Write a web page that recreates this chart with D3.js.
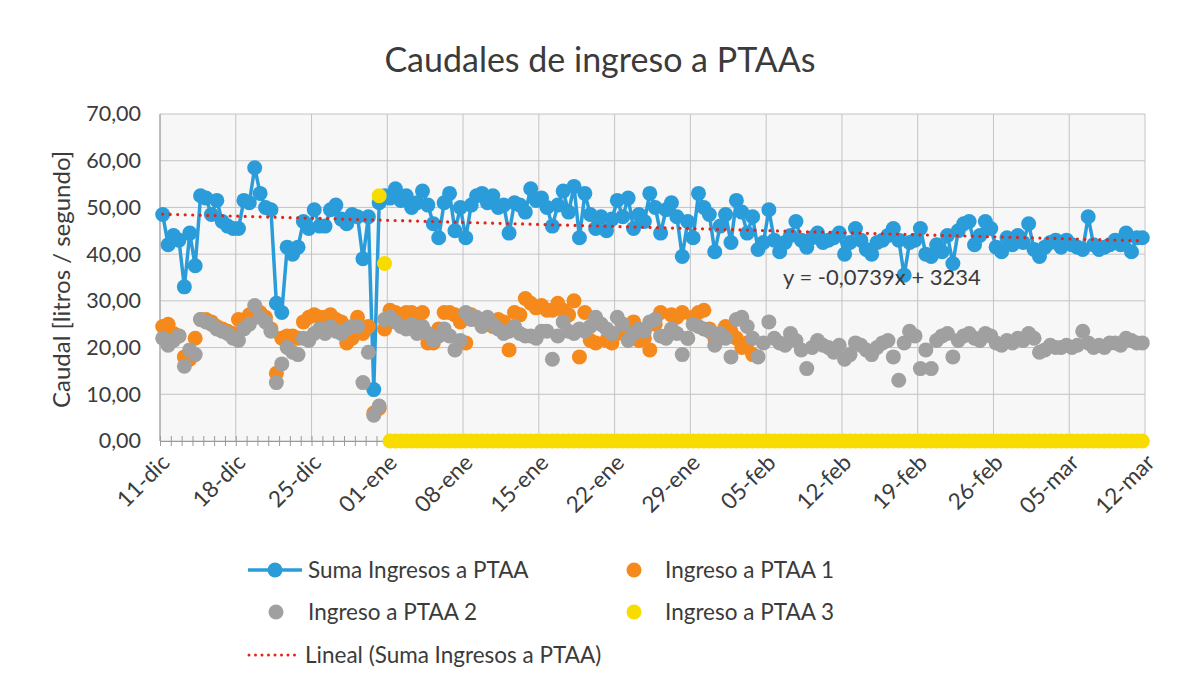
<!DOCTYPE html>
<html><head><meta charset="utf-8">
<script src="https://cdn.jsdelivr.net/npm/d3@7"></script>
<style>
body{margin:0;background:#fff;}
svg text{font-family:Lato,"Open Sans",sans-serif;fill:#3b3b3b;}
</style></head>
<body><svg id="chart" width="1186" height="688"></svg>
<script>
const chartTitle = "Caudales de ingreso a PTAAs";
const yAxisTitle = "Caudal [litros / segundo]";
const trendEquation = "y = -0,0739x + 3234";
const seriesNames = ["Suma Ingresos a PTAA","Ingreso a PTAA 1","Ingreso a PTAA 2","Ingreso a PTAA 3","Lineal (Suma Ingresos a PTAA)"];
const tickLabels = ["11-dic","18-dic","25-dic","01-ene","08-ene","15-ene","22-ene","29-ene","05-feb","12-feb","19-feb","26-feb","05-mar","12-mar"];
const yTicks = [0,10,20,30,40,50,60,70];
const daysShown = 91;            // 11-dic .. 12-mar
const readingOffsets = [0.25, 0.75]; // two readings per day (fraction of day)

// Suma Ingresos a PTAA (2 readings / day, d0 = 11-dic)
const suma = [
48.5,42, 44,43, 33,44.5, 37.5,52.5, 52,48.5, 51.5,47, 46,45.5, 45.5,51.5, 51,58.5, 53,50,
49.5,29.5, 27.5,41.5, 40,41.5, 47,45.5, 49.5,46, 46,49.5, 50.5,47.5, 46.5,48.5, 48,39, 48,11,
51,52.5, 52,54, 51.5,52.5, 50,51, 53.5,50.5, 46.5,43.5, 51,53, 45,50, 43.5,50.5, 52.5,53,
51,52.5, 50,50.5, 44.5,51, 50.5,49, 54,51.5, 52,50, 46,50.5, 53.5,49, 54.5,43.5, 53,48.5,
45.5,48, 45,47.5, 51.5,48, 52,45.5, 48.5,47, 53,50, 44.5,49.5, 51,48, 39.5,47, 43.5,53,
50,48.5, 40.5,46, 48.5,42.5, 51.5,49, 44.5,48, 41,42.5, 49.5,43, 40.5,42.5, 44,47, 43,41.5,
43.5,44.5, 42.5,43, 43.5,44.5, 40,42.5, 45.5,43, 41,40, 42.5,43, 44,45.5, 43,35.5, 42.5,43,
45.5,40, 39.5,42, 40.5,44, 38,45, 46.5,47, 42,44, 47,45.5, 41.5,40.5, 43.5,42, 44,42.5,
46.5,41, 39.5,41.5, 42.5,43, 41.5,43, 42,41.5, 41,48, 42,41, 41.5,42, 43,42, 44.5,40.5,
43.5,43.5
];
// Ingreso a PTAA 1
const ptaa1 = [
24.5,25, 23,22.5, 18,17.5, 22,26, 26,25.5, 24.5,24, 23.5,23, 26,25.5, 27,26.5, 27.5,26.5,
24,14.5, 22,22.5, 22.5,22, 25.5,26.5, 27,26.5, 26.5,27, 26,25.5, 21,22, 26.5,23, 24.5,6,
7,24, 28,27.5, 27,27.5, 27.5,27, 27.5,21, 21,24, 27.5,27.5, 27,25.5, 21,27, 26,25.5,
25,24.5, 26,25.5, 19.5,27.5, 27,30.5, 29.5,28.5, 29,28, 28,29.5, 28,27, 30,18, 27.5,21.5,
21,25, 21.5,21, 23,25, 22.5,25.5, 21.5,22, 19.5,25, 27.5,22.5, 27,26.5, 27.5,22, 26.5,27.5,
28,24, 22,23, 24.5,23.5, 22,20, 21,18.5, null,null, null,null, null,null, null,null, null,null,
null,null, null,null, null,null, null,null, null,null, null,null, null,null, null,null, null,null, null,null,
null,null, null,null, null,null, null,null, null,null, null,null, null,null, null,null, null,null, null,null,
null,null, null,null, null,null, null,null, null,null, null,null, null,null, null,null, null,null, null,null,
null,null
];
// Ingreso a PTAA 2
const ptaa2 = [
22,20.5, 21.5,22.5, 16,19.5, 18.5,26, 25.5,25, 24,23.5, 23,22, 21.5,24, 25,29, 26.5,25.5,
23.5,12.5, 16.5,20, 19,18.5, 22,21.5, 23,24, 23,24.5, 23.5,23, 24,24.5, 24.5,12.5, 19,5.5,
7.5,26, 26.5,25.5, 24.5,24, 25,23, 24.5,23, 21.5,22.5, 24,22.5, 19.5,21.5, 27.5,26, 26.5,24.5,
26.5,25, 24,23, 23.5,24.5, 23,22.5, 22.5,22, 23.5,23.5, 17.5,22.5, 25.5,23.5, 23,24, 23.5,24.5,
26.5,25, 24,23, 26.5,25, 21.5,23, 24,23.5, 25.5,26, 22.5,22, 24,23, 18.5,22, 25,24.5,
24,23.5, 20.5,23, 22,18, 26,26.5, 24.5,22, 18,21, 25.5,22, 21,20.5, 23,21.5, 19.5,15.5,
20,21.5, 20.5,20, 19,20.5, 17.5,18.5, 21,20.5, 19.5,18.5, 20,21, 21.5,18, 13,21, 23.5,22.5,
15.5,19.5, 15.5,21.5, 22.5,23, 18,21.5, 22.5,23, 22,21.5, 23,22.5, 21,20.5, 21.5,21, 22,21.5,
23,22, 19,19.5, 20.5,20, 20,20.5, 20,20.5, 23.5,21, 20,20.5, 20,21, 21,20.5, 22,21.5,
21,21
];
// Ingreso a PTAA 3
const ptaa3 = [
null,null, null,null, null,null, null,null, null,null, null,null, null,null, null,null, null,null, null,null,
null,null, null,null, null,null, null,null, null,null, null,null, null,null, null,null, null,null, null,null,
52.5,38, 0,0, 0,0, 0,0, 0,0, 0,0, 0,0, 0,0, 0,0, 0,0,
0,0, 0,0, 0,0, 0,0, 0,0, 0,0, 0,0, 0,0, 0,0, 0,0,
0,0, 0,0, 0,0, 0,0, 0,0, 0,0, 0,0, 0,0, 0,0, 0,0,
0,0, 0,0, 0,0, 0,0, 0,0, 0,0, 0,0, 0,0, 0,0, 0,0,
0,0, 0,0, 0,0, 0,0, 0,0, 0,0, 0,0, 0,0, 0,0, 0,0,
0,0, 0,0, 0,0, 0,0, 0,0, 0,0, 0,0, 0,0, 0,0, 0,0,
0,0, 0,0, 0,0, 0,0, 0,0, 0,0, 0,0, 0,0, 0,0, 0,0,
0,0
];

const colors = {suma:"#2b9cda", p1:"#f5891c", p2:"#a0a0a0", p3:"#f8dc00", trend:"#e0251b"};
const R = 7.5;

const svg = d3.select("#chart");
const W = 1186, H = 688;
const plot = {left:160, right:1145, top:114, bottom:441};

// time (in days since 11-dic) for each reading
const times = suma.map((_, i) => Math.floor(i / readingOffsets.length) + readingOffsets[i % readingOffsets.length]);

const x = d3.scaleLinear().domain([0, daysShown]).range([plot.left, plot.right]);
const y = d3.scaleLinear().domain([0, 70]).range([plot.bottom, plot.top]);

svg.append("rect").attr("width", W).attr("height", H).attr("fill", "#ffffff");
svg.append("rect").attr("x", plot.left).attr("y", plot.top)
  .attr("width", plot.right - plot.left).attr("height", plot.bottom - plot.top).attr("fill", "#f7f7f7");

// gridlines
const gx = svg.append("g");
gx.selectAll("line.h").data(yTicks).join("line")
  .attr("x1", plot.left).attr("x2", plot.right)
  .attr("y1", d => y(d)).attr("y2", d => y(d))
  .attr("stroke", "#c4c4c4").attr("stroke-width", 1);
const weekDays = tickLabels.map((_, i) => i * 7);
gx.selectAll("line.v").data(weekDays).join("line")
  .attr("x1", d => x(d)).attr("x2", d => x(d))
  .attr("y1", plot.top).attr("y2", plot.bottom)
  .attr("stroke", "#c4c4c4").attr("stroke-width", 1);

// left axis line
svg.append("line").attr("x1", plot.left).attr("x2", plot.left).attr("y1", plot.top).attr("y2", plot.bottom)
  .attr("stroke", "#9a9a9a");

// bottom axis with daily minor ticks
const xAxisMinor = d3.axisBottom(x).tickValues(d3.range(0, daysShown + 1)).tickFormat("").tickSizeOuter(0);
const axg = svg.append("g").attr("transform", `translate(0,${plot.bottom})`).call(xAxisMinor);
axg.select(".domain").attr("stroke", "#9a9a9a");
axg.selectAll(".tick line").attr("y1", -5).attr("y2", 5).attr("stroke", "#9a9a9a");

// x tick labels
svg.append("g").selectAll("text").data(weekDays).join("text")
  .attr("transform", d => `translate(${x(d) + 11},${plot.bottom + 23}) rotate(-45)`)
  .attr("text-anchor", "end").attr("font-size", 22.5)
  .text((d, i) => tickLabels[i]);

// y tick labels
const fmt = v => v.toFixed(2).replace(".", ",");
const yAxis = d3.axisLeft(y).tickValues(yTicks).tickFormat(fmt).tickSize(0).tickPadding(19);
const ayg = svg.append("g").attr("transform", `translate(${plot.left},0)`).call(yAxis);
ayg.select(".domain").remove();
ayg.selectAll("text").attr("font-size", 21.5).attr("font-family", "Lato").attr("fill", "#3b3b3b");

// y title
svg.append("text").attr("transform", `translate(70,${(plot.top + plot.bottom) / 2 + 2}) rotate(-90)`)
  .attr("text-anchor", "middle").attr("font-size", 24).text(yAxisTitle);

// title
svg.append("text").attr("x", 600).attr("y", 72).attr("text-anchor", "middle")
  .attr("font-size", 34).text(chartTitle);

const pts = arr => arr.map((v, i) => ({t: times[i], v})).filter(d => d.v != null);

// Suma line + markers
const line = d3.line().x(d => x(d.t)).y(d => y(d.v));
const sumaPts = pts(suma);
svg.append("path").datum(sumaPts).attr("d", line)
  .attr("fill", "none").attr("stroke", colors.suma).attr("stroke-width", 3.5).attr("stroke-linejoin", "round");
svg.append("g").selectAll("circle").data(sumaPts).join("circle")
  .attr("cx", d => x(d.t)).attr("cy", d => y(d.v)).attr("r", R).attr("fill", colors.suma);

// scatter series
[[ptaa1, colors.p1], [ptaa2, colors.p2], [ptaa3, colors.p3]].forEach(([arr, c]) => {
  svg.append("g").selectAll("circle").data(pts(arr)).join("circle")
    .attr("cx", d => x(d.t)).attr("cy", d => y(d.v)).attr("r", R).attr("fill", c);
});

// linear trend of Suma
const mt = d3.mean(sumaPts, d => d.t), mv = d3.mean(sumaPts, d => d.v);
const slope = d3.sum(sumaPts, d => (d.t - mt) * (d.v - mv)) / d3.sum(sumaPts, d => (d.t - mt) ** 2);
const icpt = mv - slope * mt;
const tr = d3.extent(sumaPts, d => d.t);
svg.append("line")
  .attr("x1", x(tr[0])).attr("y1", y(icpt + slope * tr[0]))
  .attr("x2", x(tr[1])).attr("y2", y(icpt + slope * tr[1]))
  .attr("stroke", colors.trend).attr("stroke-width", 3.2).attr("stroke-linecap", "round")
  .attr("stroke-dasharray", "0 7.5");

// equation label
svg.append("text").attr("x", 783).attr("y", 285).attr("font-size", 22).text(trendEquation);

// legend
const lg = svg.append("g");
const row = [570, 612, 655];
const fs = 22.5;
lg.append("line").attr("x1", 248).attr("x2", 302).attr("y1", row[0]).attr("y2", row[0]).attr("stroke", colors.suma).attr("stroke-width", 3.5);
lg.append("circle").attr("cx", 275).attr("cy", row[0]).attr("r", R).attr("fill", colors.suma);
lg.append("text").attr("x", 308).attr("y", row[0] + 8).attr("font-size", fs).text(seriesNames[0]);
lg.append("circle").attr("cx", 634).attr("cy", row[0]).attr("r", R).attr("fill", colors.p1);
lg.append("text").attr("x", 665).attr("y", row[0] + 8).attr("font-size", fs).text(seriesNames[1]);
lg.append("circle").attr("cx", 276).attr("cy", row[1]).attr("r", R).attr("fill", colors.p2);
lg.append("text").attr("x", 308).attr("y", row[1] + 8).attr("font-size", fs).text(seriesNames[2]);
lg.append("circle").attr("cx", 634).attr("cy", row[1]).attr("r", R).attr("fill", colors.p3);
lg.append("text").attr("x", 665).attr("y", row[1] + 8).attr("font-size", fs).text(seriesNames[3]);
lg.append("line").attr("x1", 249).attr("x2", 301).attr("y1", row[2]).attr("y2", row[2])
  .attr("stroke", colors.trend).attr("stroke-width", 3).attr("stroke-linecap", "round").attr("stroke-dasharray", "0 6.5");
lg.append("text").attr("x", 305).attr("y", row[2] + 8).attr("font-size", fs).text(seriesNames[4]);
</script>
</body></html>
